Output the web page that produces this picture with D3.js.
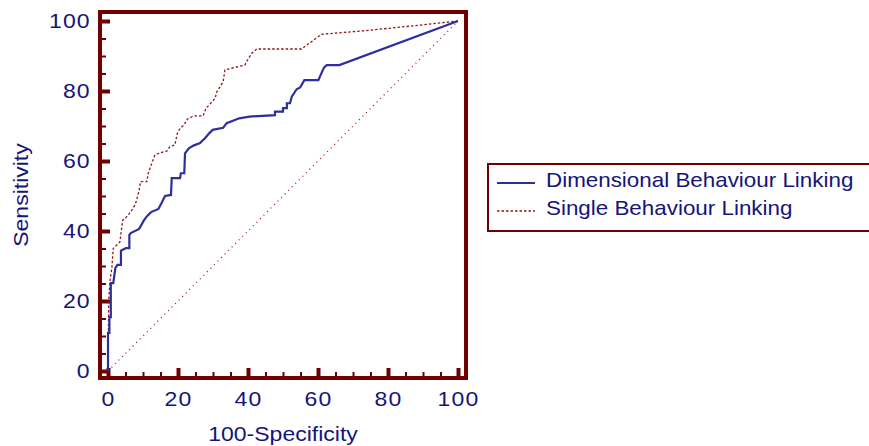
<!DOCTYPE html>
<html>
<head>
<meta charset="utf-8">
<script src="https://cdn.jsdelivr.net/npm/d3@7"></script>
<style>
  body { margin: 0; background: #fff; }
  text { font-family: "Liberation Sans", Arial, sans-serif; fill: #14147a; }
</style>
</head>
<body>
<div class="chart"></div>
<script>
// ROC curves, values (100-Specificity, Sensitivity)
const dimFpr = [0, 0, 0.4, 0.4, 0.8, 0.8, 1.5, 2.1, 2.7, 3.7, 3.7, 5.1, 6.1, 6.1, 6.5, 8.9, 10.3, 11.2, 12.3, 14.4, 15.3, 16.3, 18, 18.2, 20.6, 20.8, 21.8, 22, 23.1, 24.4, 26.3, 27.7, 28.9, 29.9, 32.9, 33.9, 37.5, 40.4, 47.7, 47.7, 50, 50, 51.1, 51.1, 52, 52.5, 53.9, 54.9, 56.1, 60.1, 61.7, 62.5, 66.1, 100];
const dimTpr = [0, 10.9, 10.9, 15.4, 15.4, 25.1, 25.1, 29.4, 30.3, 30.3, 34.4, 35.1, 35.1, 38.9, 39.4, 40.6, 43.1, 44.3, 45.4, 46.3, 48, 50, 50.3, 55.1, 55.1, 56.5, 56.5, 62.2, 63.6, 64.4, 65.1, 66.5, 67.9, 68.9, 69.5, 70.8, 72.2, 72.7, 73.1, 74.1, 74.1, 75.1, 75.1, 76.5, 76.5, 78.4, 80.5, 81, 83.1, 83.1, 86.7, 87.4, 87.4, 100];

const singleFpr = [0, 0.2, 0.6, 1.1, 1.5, 2.5, 3.4, 4.2, 4.9, 5.8, 6.5, 7.7, 8.2, 8.9, 9.3, 11.1, 11.5, 12.5, 13.4, 13.9, 16.9, 17.7, 19.1, 19.8, 20.6, 21.7, 22.7, 24.6, 27.2, 28, 28.9, 30.6, 31.1, 32, 32.9, 33.4, 35.3, 39.1, 39.6, 41.1, 42.5, 55.3, 61, 73, 85, 90, 100];
const singleTpr = [0, 20.3, 26, 29.4, 35, 36, 36.9, 43.1, 43.6, 44.6, 45.5, 47.4, 48.9, 51.7, 54.1, 54.1, 56.5, 59.3, 61.7, 62, 62.9, 64.1, 64.6, 67.9, 69.3, 70.3, 72, 72.9, 72.9, 75.1, 76, 77.9, 79.8, 81.2, 82.7, 86, 86.5, 87.4, 88.4, 90.8, 92, 92, 96.2, 97.2, 98.4, 98.9, 100];

const refLine = [0, 100];
const majorTicks = [0, 20, 40, 60, 80, 100];
const minorTicks = d3.range(0, 101, 5);
const seriesNames = ['Dimensional Behaviour Linking', 'Single Behaviour Linking'];

const frameColor = '#700000';
const stretch = 'scale(1.15,1)';

const svg = d3.select('.chart').append('svg')
  .attr('width', 869)
  .attr('height', 446);

const x = d3.scaleLinear().domain([0, 100]).range([108, 458]);
const y = d3.scaleLinear().domain([0, 100]).range([371, 21]);

// frame
svg.append('rect')
  .attr('x', 100).attr('y', 12)
  .attr('width', 366).attr('height', 366)
  .attr('fill', 'none')
  .attr('stroke', frameColor)
  .attr('stroke-width', 4);

// minor ticks
const yMinor = svg.append('g').attr('transform', 'translate(100,0)')
  .call(d3.axisLeft(y).tickValues(minorTicks).tickSize(-6).tickFormat(''));
const xMinor = svg.append('g').attr('transform', 'translate(0,378)')
  .call(d3.axisBottom(x).tickValues(minorTicks).tickSize(-6).tickFormat(''));
[yMinor, xMinor].forEach(g => {
  g.select('.domain').remove();
  g.selectAll('line').attr('stroke', frameColor).attr('stroke-width', 2);
});

// major ticks and labels
const yMajor = svg.append('g').attr('transform', 'translate(100,0)')
  .call(d3.axisLeft(y).tickValues(majorTicks).tickSize(-10).tickPadding(8));
const xMajor = svg.append('g').attr('transform', 'translate(0,378)')
  .call(d3.axisBottom(x).tickValues(majorTicks).tickSize(-10).tickPadding(14));
[yMajor, xMajor].forEach(g => {
  g.select('.domain').remove();
  g.selectAll('line').attr('stroke', frameColor).attr('stroke-width', 4);
  g.selectAll('text')
    .attr('font-size', 20)
    .attr('fill', '#14147a')
    .style('letter-spacing', '1px')
    .attr('transform', stretch);
});

// reference diagonal
svg.append('line')
  .attr('x1', x(refLine[0])).attr('y1', y(refLine[0]))
  .attr('x2', x(refLine[1])).attr('y2', y(refLine[1]))
  .attr('stroke', '#8b1a1a')
  .attr('stroke-width', 1.2)
  .attr('stroke-dasharray', '1,4');

const line = d3.line().x(d => x(d[0])).y(d => y(d[1]));

svg.append('path')
  .datum(singleFpr.map((v, i) => [v, singleTpr[i]]))
  .attr('d', line)
  .attr('fill', 'none')
  .attr('stroke', '#8b1a1a')
  .attr('stroke-width', 1.3)
  .attr('stroke-dasharray', '2.5,2');

svg.append('path')
  .datum(dimFpr.map((v, i) => [v, dimTpr[i]]))
  .attr('d', line)
  .attr('fill', 'none')
  .attr('stroke', '#2e2e9c')
  .attr('stroke-width', 2.2);

// axis titles
svg.append('text')
  .attr('transform', 'translate(283,441) ' + stretch)
  .attr('text-anchor', 'middle')
  .attr('font-size', 20)
  .text('100-Specificity');

svg.append('text')
  .attr('transform', 'translate(28,195) rotate(-90) ' + stretch)
  .attr('text-anchor', 'middle')
  .attr('font-size', 20)
  .text('Sensitivity');

// legend
const legend = svg.append('g');
legend.append('rect')
  .attr('x', 488).attr('y', 164)
  .attr('width', 400).attr('height', 67)
  .attr('fill', 'none')
  .attr('stroke', frameColor)
  .attr('stroke-width', 2);

const legendStyles = [
  { stroke: '#2e2e9c', width: 2, dash: null },
  { stroke: '#8b1a1a', width: 1.3, dash: '2.5,2' }
];
seriesNames.forEach((name, i) => {
  const cy = 183 + i * 28;
  legend.append('line')
    .attr('x1', 497).attr('x2', 535)
    .attr('y1', cy).attr('y2', cy)
    .attr('stroke', legendStyles[i].stroke)
    .attr('stroke-width', legendStyles[i].width)
    .attr('stroke-dasharray', legendStyles[i].dash);
  legend.append('text')
    .attr('transform', `translate(546,${cy + 4}) scale(1.12,1)`)
    .attr('font-size', 20)
    .text(name);
});
</script>
</body>
</html>
